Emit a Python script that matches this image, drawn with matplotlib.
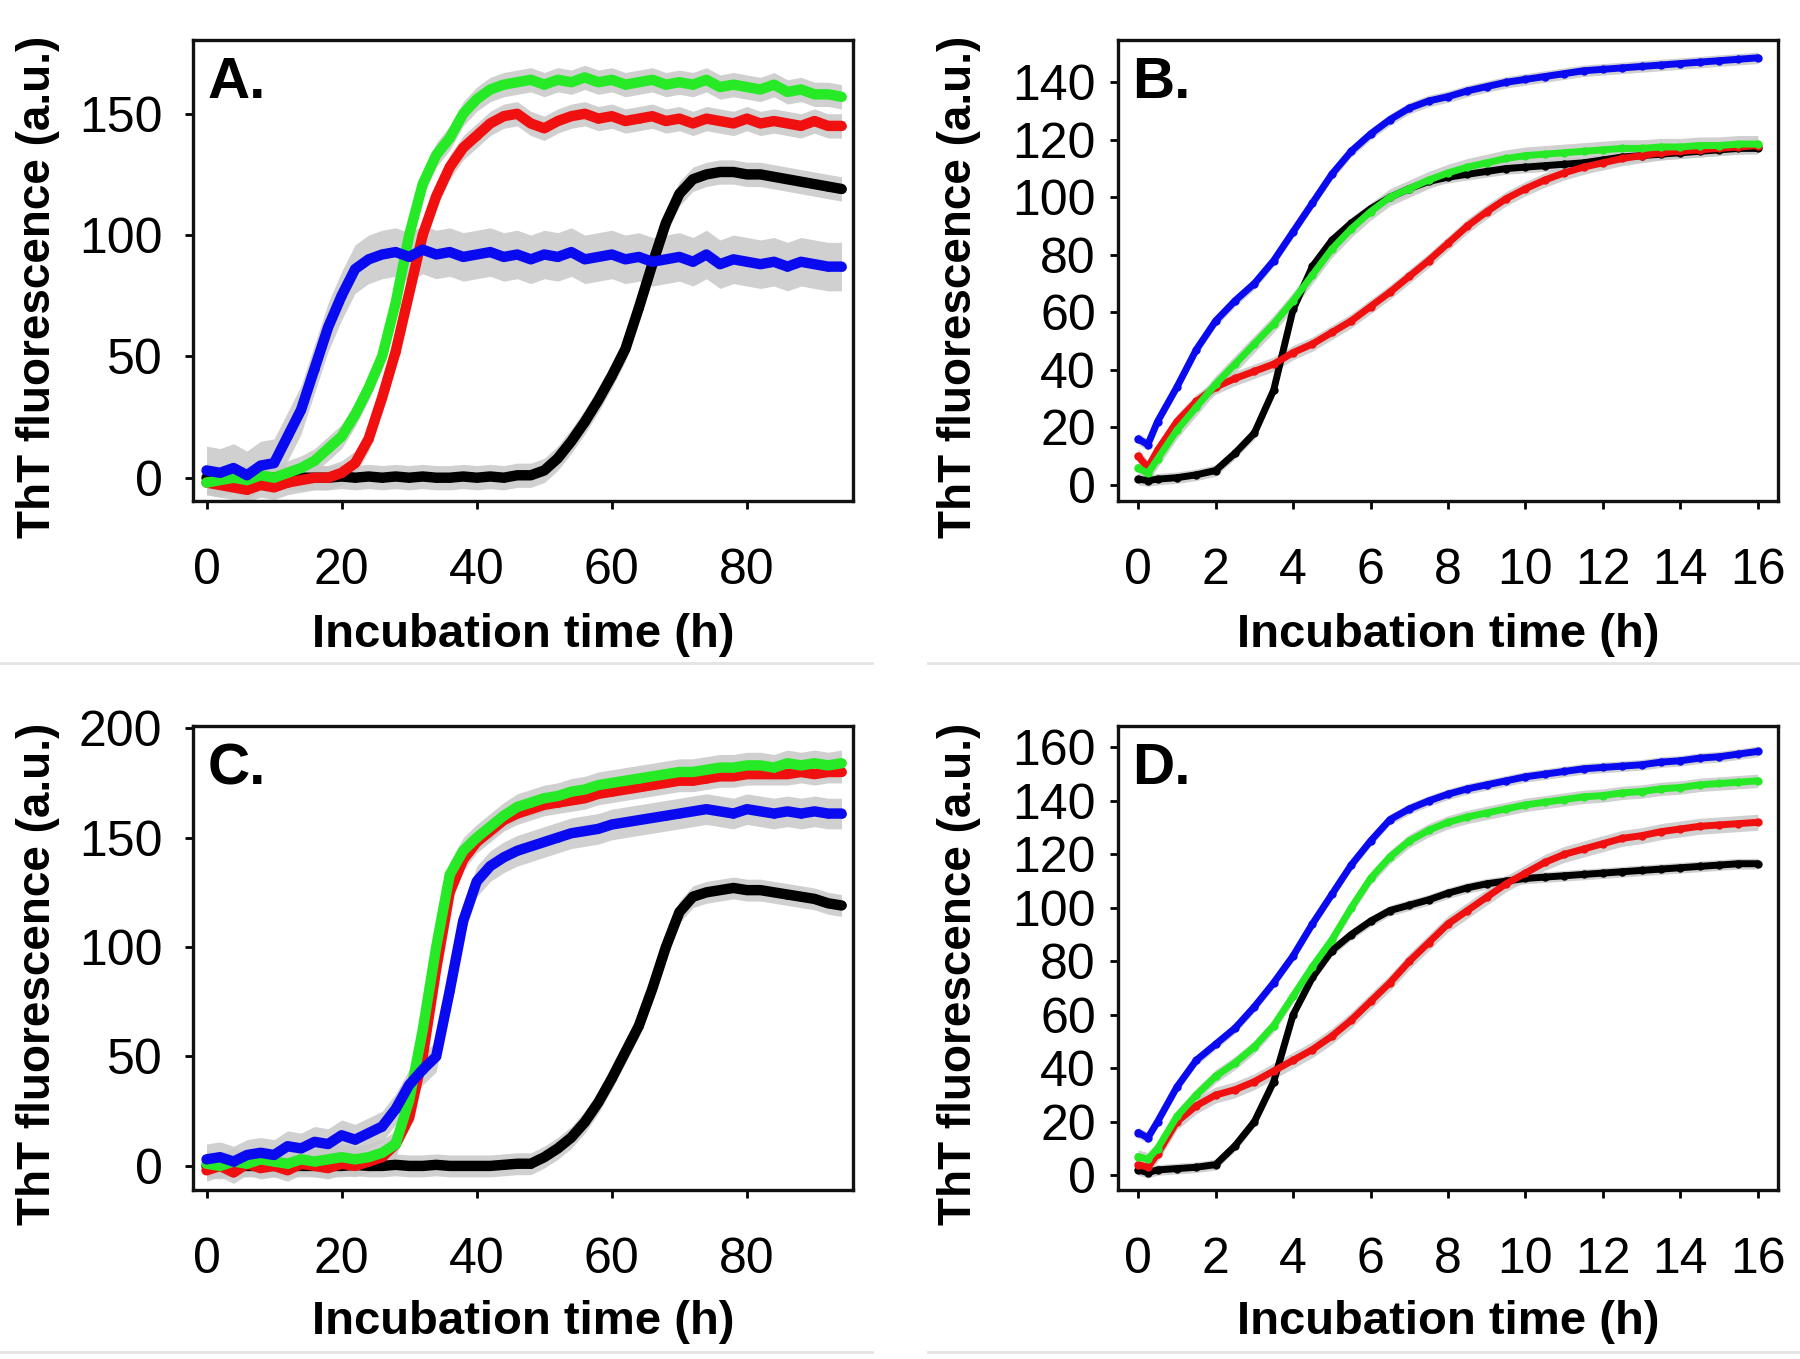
import matplotlib
matplotlib.use("Agg")
import matplotlib.pyplot as plt
from matplotlib.lines import Line2D
import numpy as np

plt.rcParams["font.family"] = ["Liberation Sans", "DejaVu Sans"]

# time grids (h)
t_long = np.arange(0, 96, 2)
t_short = [0, 0.25, 0.5, 1, 1.5, 2, 2.5, 3, 3.5, 4, 4.5, 5, 5.5, 6, 6.5, 7, 7.5,
           8, 8.5, 9, 9.5, 10, 10.5, 11, 11.5, 12, 12.5, 13, 13.5, 14, 14.5, 15, 15.5, 16]

# panel A
A_black = [0, 0, 0, 0, 0, 0, 0, 0, 0, 0,
           0.5, 0, 0.5, 0, 0.5, 0, 0.5, 0, 0, 0.5,
           0, 0.5, 0, 1, 1, 3, 8, 15, 23, 32,
           42, 53, 70, 88, 105, 117, 123, 125, 126, 126,
           125, 125, 124, 123, 122, 121, 120, 119]
A_red = [-2, -3, -4, -5, -3, -4, -2, -1, 0, 0,
         2, 6, 16, 33, 52, 76, 100, 116, 128, 136,
         141, 146, 149, 150, 146, 144, 147, 149, 150, 148,
         149, 147, 148, 149, 147, 148, 146, 148, 147, 146,
         148, 146, 147, 146, 145, 147, 145, 145]
A_green = [-2, -1, 0, -1, 1, 0, 2, 4, 7, 12,
           17, 26, 37, 50, 72, 100, 121, 133, 140, 150,
           156, 160, 162, 163, 164, 162, 164, 163, 165, 163,
           164, 162, 163, 164, 162, 163, 162, 164, 161, 162,
           161, 160, 162, 159, 160, 158, 158, 157]
A_blue = [3, 2, 4, 1, 5, 6, 17, 28, 45, 62,
          75, 86, 90, 92, 93, 91, 94, 92, 93, 91,
          92, 93, 91, 92, 90, 92, 91, 93, 90, 91,
          92, 90, 91, 89, 90, 91, 89, 92, 88, 90,
          89, 88, 89, 87, 89, 88, 87, 87]

# panel C
C_black = [0, 0, 0, 0, 0, 0, 0, 0, 0, 0,
           0, 0.5, 0, 0, 0.5, 0, 0, 0.5, 0, 0,
           0, 0, 0.5, 1, 1, 4, 8, 13, 20, 29,
           40, 52, 64, 81, 100, 116, 123, 125, 126, 127,
           126, 126, 125, 124, 123, 122, 120, 119]
C_red = [-2, 0, -3, 1, -1, 0, -2, 1, 0, -1,
         1, 0, 2, 4, 10, 22, 50, 90, 125, 140,
         148, 153, 158, 161, 163, 165, 166, 167, 168, 170,
         171, 172, 173, 174, 175, 176, 176, 177, 178, 178,
         179, 179, 179, 179, 180, 179, 180, 180]
C_green = [1, 0, 2, 1, 3, 2, 1, 3, 2, 3,
           4, 3, 4, 6, 10, 30, 62, 100, 133, 144,
           150, 155, 160, 164, 166, 168, 169, 171, 172, 174,
           175, 176, 177, 178, 179, 180, 180, 181, 182, 182,
           183, 183, 182, 184, 183, 184, 183, 184]
C_blue = [3, 4, 2, 5, 6, 5, 9, 8, 11, 10,
          14, 12, 15, 18, 26, 37, 44, 50, 80, 112,
          130, 137, 141, 144, 146, 148, 150, 152, 153, 154,
          156, 157, 158, 159, 160, 161, 162, 163, 162, 161,
          163, 162, 161, 162, 161, 162, 161, 161]

# panel B
B_black = [2, 1.5, 2, 2.5, 3.5, 5, 11, 18, 33, 61, 76, 85, 91,
           96, 100, 103, 105.5, 107, 108, 109, 110, 110.5, 111,
           111.5, 112, 113, 114, 114.5, 115, 115.5, 116, 116.5, 117, 117]
B_red = [10, 6, 12, 22, 29, 34, 37, 39.5, 42, 46, 49, 53, 57,
         62, 67, 72.5, 78, 84, 90, 95, 99.5, 103, 106,
         108.5, 110.5, 112, 113.5, 114.5, 115.5, 116, 116.5, 117, 117.5, 118]
B_green = [6, 4, 9, 19, 27, 35, 42, 49, 56, 64, 73, 82, 89,
           95, 100, 103, 106, 108.5, 110.5, 112, 113.5, 114.5, 115,
           115.5, 116, 116.5, 117, 117, 117.5, 117.5, 118, 118, 118.5, 118.5]
B_blue = [16, 14, 22, 34, 47, 57, 64, 70, 78, 88, 98, 108, 116,
          122, 127, 131, 133.5, 135, 137, 138.5, 140, 141, 142,
          143, 144, 144.5, 145, 145.5, 146, 146.5, 147, 147.5, 148, 148.5]

# panel D
D_black = [2, 1, 2, 2.5, 3, 4, 11, 20, 35, 60, 74, 84, 90,
           95, 99, 101, 103, 105.5, 107.5, 109, 110, 111, 111.5,
           112, 112.5, 113, 113.5, 114, 114.5, 115, 115.5, 116, 116.5, 116.5]
D_red = [4, 3, 8, 20, 26, 30, 32, 35, 39, 43, 47, 52, 58,
         65, 72, 80, 87, 94, 99, 104, 109, 113, 117,
         120, 122, 124, 126, 127, 128.5, 129.5, 130.5, 131, 131.5, 132]
D_green = [7, 6, 10, 22, 30, 37, 42, 48, 56, 67, 78, 88, 100,
           111, 119, 125, 129, 132, 134, 135.5, 137, 138.5, 139.5,
           140.5, 141.5, 142, 143, 143.5, 144.5, 145, 146, 146.5, 147, 147.5]
D_blue = [16, 14, 20, 33, 43, 49, 55, 63, 72, 82, 94, 105, 116,
          125, 133, 137, 140, 142.5, 144.5, 146, 147.5, 149, 150,
          151, 152, 152.5, 153, 153.5, 154.5, 155, 156, 156.5, 157.5, 158.5]

# error (s.d.) per series, a.u.
A_err = {"black": 5, "red": 5, "green": 5, "blue": 10}
C_err = {"black": 5, "red": 5, "green": 6, "blue": 7}
B_err = {"black": 2, "red": 2.5, "green": 3, "blue": 2}
D_err = {"black": 2, "red": 3, "green": 2.5, "blue": 2}

COLORS = {"black": "#000000", "red": "#f01010", "green": "#26ea26", "blue": "#0a0af0"}
GRAY = "#c8c8c8"

fig = plt.figure(figsize=(18, 13.59), dpi=100)

W, H = 1800, 1359


def add_panel(px_left, px_top, px_right, px_bottom):
    return fig.add_axes([px_left / W, 1 - px_bottom / H,
                         (px_right - px_left) / W, (px_bottom - px_top) / H])


def draw_panel(ax, t, series, errs, lw, ms, xlim, ylim, xticks, yticks, letter, ypad):
    t = np.asarray(t, dtype=float)
    for name, y in series:
        y = np.asarray(y, dtype=float)
        e = errs[name]
        ax.fill_between(t, y - e, y + e, color=GRAY, lw=0, alpha=0.85, zorder=1)
    for name, y in series:
        ax.plot(t, y, color=COLORS[name], lw=lw, marker="o", ms=ms,
                markeredgewidth=0, solid_capstyle="round", zorder=3)
    ax.set_xlim(*xlim)
    ax.set_ylim(*ylim)
    ax.set_xticks(xticks)
    ax.set_yticks(yticks)
    ax.tick_params(axis="both", direction="out", length=6, width=2, labelsize=36)
    ax.tick_params(axis="x", pad=28)
    ax.tick_params(axis="y", pad=ypad)
    for sp in ax.spines.values():
        sp.set_linewidth(2.4)
        sp.set_color("#111111")
    ax.set_xlabel("Incubation time (h)", fontsize=34, fontweight="bold")
    ax.set_ylabel("ThT fluorescence (a.u.)", fontsize=33, fontweight="bold")
    ax.xaxis.label.set_va("center")
    ax.yaxis.label.set_va("center")
    ax.text(0.022, 0.965, letter, transform=ax.transAxes, ha="left", va="top",
            fontsize=42, fontweight="bold")


order = ["black", "red", "green", "blue"]

axA = add_panel(193, 40, 853, 501)
draw_panel(axA, t_long, list(zip(order, [A_black, A_red, A_green, A_blue])), A_err,
           7.5, 6, (-2, 95.7), (-9.6, 180.4), [0, 20, 40, 60, 80], [0, 50, 100, 150], "A.", 16)
axA.xaxis.set_label_coords(0.5, -0.29)
axA.yaxis.set_label_coords(-0.235, 0.465)

axB = add_panel(1118, 40, 1778, 501)
draw_panel(axB, t_short, list(zip(order, [B_black, B_red, B_green, B_blue])), B_err,
           5, 6, (-0.52, 16.52), (-5.6, 154.7), list(range(0, 17, 2)),
           list(range(0, 141, 20)), "B.", 10)
axB.xaxis.set_label_coords(0.5, -0.29)
axB.yaxis.set_label_coords(-0.241, 0.465)

axC = add_panel(193, 726, 853, 1190)
draw_panel(axC, t_long, list(zip(order, [C_black, C_red, C_green, C_blue])), C_err,
           7.5, 6, (-2, 95.7), (-11, 201), [0, 20, 40, 60, 80], [0, 50, 100, 150, 200], "C.", 16)
axC.xaxis.set_label_coords(0.5, -0.285)
axC.yaxis.set_label_coords(-0.235, 0.465)

axD = add_panel(1118, 726, 1778, 1190)
draw_panel(axD, t_short, list(zip(order, [D_black, D_red, D_green, D_blue])), D_err,
           5, 6, (-0.52, 16.52), (-5.5, 168), list(range(0, 17, 2)),
           list(range(0, 161, 20)), "D.", 10)
axD.xaxis.set_label_coords(0.5, -0.285)
axD.yaxis.set_label_coords(-0.241, 0.465)

# faint separators between the sub-figures
for x0, x1 in [(0, 872), (928, 1800)]:
    for yy in [663, 1352]:
        fig.add_artist(Line2D([x0 / W, x1 / W], [1 - yy / H, 1 - yy / H],
                              color="#e4e4e4", lw=2))

fig.savefig("out.png", dpi=100)
